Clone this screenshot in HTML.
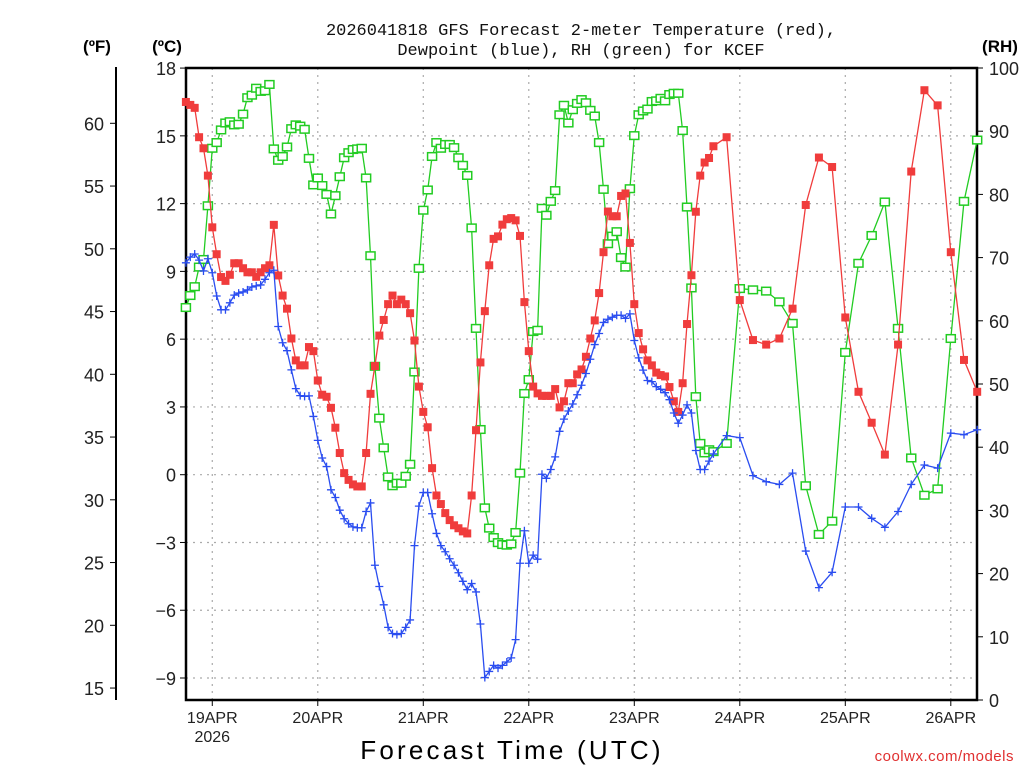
<!DOCTYPE html>
<html><head><meta charset="utf-8">
<style>
body{margin:0;background:#fff;}
svg{display:block;font-family:"Liberation Sans",sans-serif;}
</style></head>
<body>
<svg id="chart" width="1024" height="768" viewBox="0 0 1024 768">
<g id="grid"></g>
<g id="axes"></g>
<g id="series"></g>
<text x="581" y="35" text-anchor="middle" font-size="17" font-family="Liberation Mono, monospace" fill="#111">2026041818 GFS Forecast 2-meter Temperature (red),</text>
<text x="581" y="55" text-anchor="middle" font-size="17" font-family="Liberation Mono, monospace" fill="#111">Dewpoint (blue), RH (green) for KCEF</text>
<text x="97" y="52" text-anchor="middle" font-size="17" font-weight="bold">(ºF)</text>
<text x="167" y="52" text-anchor="middle" font-size="17" font-weight="bold">(ºC)</text>
<text x="1000" y="52" text-anchor="middle" font-size="17" font-weight="bold">(RH)</text>
<text x="512" y="759" text-anchor="middle" font-size="26" letter-spacing="3.2">Forecast Time (UTC)</text>
<text x="1014" y="761" text-anchor="end" font-size="15" fill="#e03030" letter-spacing="0.5">coolwx.com/models</text>
</svg>
<script>
const tempC = [16.5,16.37,16.24,14.94,14.45,13.24,10.95,9.76,8.75,8.58,8.85,9.36,9.36,9.14,8.96,8.96,8.76,8.96,9.14,9.27,11.06,8.82,7.93,7.35,6.03,5.06,4.84,4.84,5.65,5.47,4.17,3.54,3.45,2.96,2.08,0.96,0.07,-0.23,-0.43,-0.52,-0.52,0.96,3.58,4.81,6.16,
6.85,7.55,7.93,7.55,7.75,7.55,7.15,5.94,3.90,2.78,2.10,0.29,-0.92,-1.30,-1.70,-2.01,-2.24,-2.37,-2.51,-2.60,-0.92,1.97,4.97,7.24,9.27,10.44,10.55,11.07,11.31,11.36,11.26,10.57,7.64,5.47,3.90,3.60,3.49,3.49,3.49,3.79,2.98,3.25,4.05,4.05,4.44,
4.66,5.22,6.03,6.83,8.04,9.85,11.65,11.44,11.44,12.34,12.45,10.26,7.55,6.27,5.55,5.06,4.84,4.52,4.41,4.35,3.88,3.25,2.78,4.05,6.67,8.83,11.64,13.24,13.82,14.02,14.54,
14.94,7.73,5.96,5.76,6.03,7.35,11.94,14.04,13.62,6.96,3.67,2.30,0.89,5.76,13.42,17.02,16.35,9.85,5.08,3.67];
const dewC = [9.38,9.63,9.77,9.5,9.02,9.56,8.94,7.91,7.30,7.30,7.61,7.95,8.04,8.09,8.18,8.31,8.36,8.40,8.65,8.94,9.05,6.56,5.84,5.49,4.64,3.81,3.50,3.47,3.49,2.58,1.52,0.74,0.36,-0.67,-1.01,-1.57,-1.95,-2.17,-2.31,-2.35,-2.35,-1.63,-1.25,-4.01,-4.95,
-5.76,-6.76,-7.03,-7.08,-7.03,-6.76,-6.43,-3.14,-1.39,-0.79,-0.79,-1.73,-2.60,-3.14,-3.41,-3.72,-4.01,-4.34,-4.72,-5.09,-4.82,-5.19,-6.61,-8.98,-8.71,-8.44,-8.56,-8.44,-8.29,-8.11,-7.30,-3.92,-2.48,-3.92,-3.56,-3.74,0.02,-0.16,0.23,0.79,1.92,2.46,2.82,3.13,3.54,
3.96,4.48,5.11,5.76,6.25,6.74,6.88,6.97,7.06,7.06,6.92,7.12,5.94,5.17,4.63,4.17,4.12,3.90,3.78,3.63,3.32,2.73,2.28,2.64,3.09,2.73,1.07,0.23,0.23,0.60,0.92,
1.73,1.64,-0.04,-0.31,-0.43,0.07,-3.38,-5.00,-4.32,-1.43,-1.43,-1.93,-2.33,-1.63,-0.43,0.43,0.29,1.84,1.77,1.99];
const rhPct = [62.1,64.0,65.4,68.5,69.7,78.2,87.3,88.2,90.2,91.3,91.5,91.0,91.1,92.7,95.3,95.7,96.8,96.3,96.4,97.4,87.2,85.4,86.0,87.5,90.4,91.0,90.8,90.3,85.7,81.5,82.6,81.4,80.0,76.9,79.8,82.8,85.8,86.6,87.1,87.2,87.3,82.6,70.3,52.8,44.6,
39.9,35.3,33.9,34.3,34.3,35.4,37.3,51.9,68.3,77.5,80.7,86.0,88.2,87.3,87.9,87.9,87.4,85.8,84.6,83.0,74.7,58.8,42.8,30.4,27.2,25.7,24.9,24.6,24.5,24.7,26.5,35.9,48.5,50.7,58.3,58.5,77.8,76.7,78.9,80.6,92.6,94.1,91.3,93.4,94.4,
95.0,94.5,93.3,92.4,88.2,80.8,72.2,73.4,74.1,70.0,68.5,80.9,89.3,92.6,93.2,93.5,94.7,94.8,95.2,94.8,95.8,96.0,96.0,90.1,78.0,65.2,48.0,40.6,39.1,39.6,39.3,
40.6,65.1,64.9,64.7,63.0,59.6,33.9,26.2,28.3,55.0,69.1,73.5,78.8,58.8,38.3,32.4,33.4,57.2,78.9,88.6];
const hourlyEnd = 120, coarseStep = 3, lastHour = 180;
const forecastHours = [];
for (let h = 0; h <= hourlyEnd; h++) forecastHours.push(h);
for (let h = hourlyEnd + coarseStep; h <= lastHour; h += coarseStep) forecastHours.push(h);
const dayLabels = ["19APR","20APR","21APR","22APR","23APR","24APR","25APR","26APR"];
const dayHours = [6,30,54,78,102,126,150,174];
const cTicks = [18,15,12,9,6,3,0,-3,-6,-9];
const fTicks = [60,55,50,45,40,35,30,25,20,15];
const rhTicks = [100,90,80,70,60,50,40,30,20,10,0];

const NS = "http://www.w3.org/2000/svg";
const L = 186, R = 977, T = 68, B = 700;
const xH = h => 185.9 + 4.396 * h;
const yC = c => 474.7 - 22.59 * c;
const yF = f => yC((f - 32) / 1.8);
const yRH = r => B - (B - T) * r / 100;
function mk(tag, attrs, parent, txt) {
  const e = document.createElementNS(NS, tag);
  for (const k in attrs) e.setAttribute(k, attrs[k]);
  if (txt !== undefined) e.textContent = txt;
  parent.appendChild(e);
  return e;
}
const grid = document.getElementById('grid'), axes = document.getElementById('axes'), series = document.getElementById('series');

cTicks.forEach(c => {
  if (c !== 18) {
    const g = mk('line', {x1: L, x2: R, y1: yC(c), y2: yC(c), stroke: '#aaa', 'stroke-dasharray': '2,5', 'stroke-width': 1.2}, grid);
    
    
  }
  mk('line', {x1: L - 6, x2: L, y1: yC(c), y2: yC(c), stroke: '#000'}, axes);
  const t = mk('text', {x: 176, y: yC(c) + 7, 'text-anchor': 'end', 'font-size': 18, fill: '#222'}, axes, c < 0 ? '\u2212' + Math.abs(c) : String(c));
  
  
});
dayHours.forEach((h, i) => {
  const x = xH(h);
  const g = mk('line', {x1: x, x2: x, y1: T, y2: B, stroke: '#aaa', 'stroke-dasharray': '2,5', 'stroke-width': 1.2}, grid);
  
  
  mk('line', {x1: x, x2: x, y1: B, y2: B + 6, stroke: '#000'}, axes);
  const t = mk('text', {x: x, y: 723, 'text-anchor': 'middle', 'font-size': 16, fill: '#222'}, axes, dayLabels[i]);
  
  
});
const yr = mk('text', {x: xH(dayHours[0]), y: 742, 'text-anchor': 'middle', 'font-size': 16, fill: '#222'}, axes, '2026');



fTicks.forEach(f => {
  mk('line', {x1: 110, x2: 116, y1: yF(f), y2: yF(f), stroke: '#000'}, axes);
  const t = mk('text', {x: 104, y: yF(f) + 7, 'text-anchor': 'end', 'font-size': 18, fill: '#222'}, axes, String(f));
  
  
});
rhTicks.forEach(r => {
  mk('line', {x1: R, x2: R + 6, y1: yRH(r), y2: yRH(r), stroke: '#000'}, axes);
  const t = mk('text', {x: 989, y: yRH(r) + 7, 'text-anchor': 'start', 'font-size': 18, fill: '#222'}, axes, String(r));
  
  
});
mk('line', {x1: 116, x2: 116, y1: 67, y2: B, stroke: '#000', 'stroke-width': 2}, axes);
mk('path', {d: `M${L},${T}H${R}V${B}H${L}Z`, fill: 'none', stroke: '#000', 'stroke-width': 2.5}, axes);

function drawSeries(vals, yfn, color, kind, name) {
  const g = mk('g', {}, series);
  
  
  const pts = vals.map((v, i) => [xH(forecastHours[i]), yfn(v)]);
  mk('polyline', {points: pts.map(p => p[0].toFixed(1) + ',' + p[1].toFixed(1)).join(' '), fill: 'none', stroke: color, 'stroke-width': 1.3}, g);
  pts.forEach(p => {
    let m;
    if (kind === 'filled') m = mk('rect', {x: p[0] - 4, y: p[1] - 4, width: 8, height: 8, fill: color}, g);
    else if (kind === 'hollow') m = mk('rect', {x: p[0] - 4.5, y: p[1] - 3.8, width: 9, height: 7.6, fill: '#fff', stroke: color, 'stroke-width': 1.5}, g);
    else m = mk('path', {d: `M${p[0] - 4},${p[1]}h8M${p[0]},${p[1] - 4}v8`, stroke: color, 'stroke-width': 1.3}, g);
    
    
  });
}
drawSeries(rhPct, yRH, '#22cc22', 'hollow', 'rh-series');
drawSeries(tempC, yC, '#f03c3c', 'filled', 'temperature-series');
drawSeries(dewC, yC, '#2a4df0', 'plus', 'dewpoint-series');
</script>
</body></html>
